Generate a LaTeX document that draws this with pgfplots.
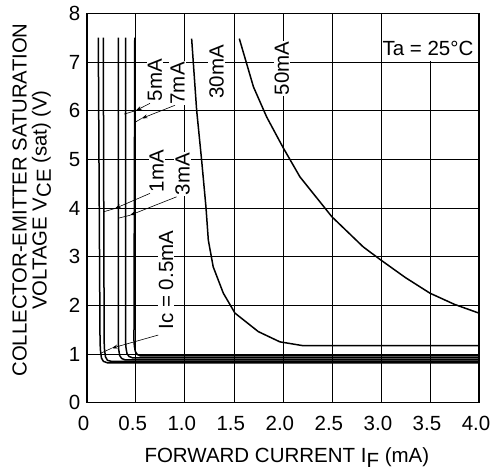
\documentclass[border=0pt]{standalone}
\usepackage{fontspec}
\setmainfont{Liberation Sans}
\usepackage{pgfplots}
\pgfplotsset{compat=1.18}
\usetikzlibrary{arrows.meta}

\begin{document}
\begin{tikzpicture}[font=\fontsize{20.5}{22}\selectfont]
\begin{axis}[
    scale only axis,
    width=392.3pt, height=389.4pt,
    xmin=0, xmax=4, ymin=0, ymax=8,
    xtick={0,0.5,...,4}, ytick={0,1,...,8},
    xticklabels={0,0.5,1.0,1.5,2.0,2.5,3.0,3.5,4.0},
    /pgf/number format/assume math mode=true,
    major tick length=0pt,
    grid=major,
    major grid style={black, line width=0.6pt},
    axis line style={line width=1.6pt},
    xticklabel style={yshift=-10pt, xshift=-3pt},
    yticklabel style={xshift=-3pt},
    clip=false,
]
% curves, Ic = 0.5, 1, 3, 5, 7 mA
\addplot[black, line width=1.5pt] coordinates {
    (0.118,7.5) (0.136,1.25) (0.140,1.08) (0.150,0.92) (0.170,0.85) (0.21,0.82) (4.0,0.82)};
\addplot[black, line width=1.5pt] coordinates {
    (0.169,7.5) (0.178,1.25) (0.182,1.08) (0.192,0.94) (0.212,0.87) (0.25,0.85) (4.0,0.85)};
\addplot[black, line width=1.5pt] coordinates {
    (0.322,7.5) (0.322,1.25) (0.326,1.10) (0.336,0.97) (0.356,0.91) (0.39,0.88) (4.0,0.88)};
\addplot[black, line width=1.5pt] coordinates {
    (0.397,7.5) (0.397,1.25) (0.401,1.12) (0.411,1.01) (0.431,0.95) (0.47,0.92) (4.0,0.92)};
\addplot[black, line width=1.5pt] coordinates {
    (0.490,7.5) (0.482,1.28) (0.486,1.16) (0.496,1.05) (0.516,0.99) (0.55,0.96) (4.0,0.96)};
% Ic = 30 mA
\addplot[black, line width=1.5pt] coordinates {
    (1.07,7.48) (1.121,6.01) (1.172,4.98) (1.216,4.02) (1.240,3.34) (1.29,2.79)
    (1.393,2.25) (1.512,1.84) (1.75,1.46) (1.97,1.25) (2.21,1.17) (4.0,1.17)};
% Ic = 50 mA
\addplot[black, line width=1.5pt] coordinates {
    (1.556,7.48) (1.70,6.49) (1.835,5.87) (2.0,5.25) (2.174,4.64) (2.5,3.82)
    (2.82,3.20) (3.0,2.93) (3.25,2.57) (3.5,2.25) (3.75,2.02) (4.0,1.84)};

% labels
\tikzset{lbl/.style={rotate=90, fill=white, inner sep=1pt}}
\node[lbl] at (axis cs:0.696,6.63) {5mA};
\node[lbl] at (axis cs:0.926,6.56) {7mA};
\node[lbl] at (axis cs:0.713,4.76) {1mA};
\node[lbl] at (axis cs:0.977,4.70) {3mA};
\node[lbl] at (axis cs:1.325,6.80) {30mA};
\node[lbl] at (axis cs:1.99,6.87) {50mA};
\node[lbl] at (axis cs:0.81,2.52) {Ic = 0.5mA};
\fill[white] (axis cs:3.01,7.01) rectangle (axis cs:4,8);
\node[anchor=west, inner sep=0pt] at (axis cs:3.015,7.28) {Ta = 25°C};

% leader lines
\tikzset{ldr/.style={line width=0.6pt, -{Stealth[length=6pt,width=4pt]}}}
\draw[ldr] (axis cs:0.645,6.15) -- (axis cs:0.50,6.00);
\draw[line width=0.6pt] (axis cs:0.50,6.00) -- (axis cs:0.383,5.93);
\draw[ldr] (axis cs:0.90,6.11) -- (axis cs:0.56,5.84);
\draw[line width=0.6pt] (axis cs:0.56,5.84) -- (axis cs:0.50,5.77);
\draw[ldr] (axis cs:0.645,4.30) -- (axis cs:0.288,3.99);
\draw[line width=0.6pt] (axis cs:0.288,3.99) -- (axis cs:0.169,3.92);
\draw[ldr] (axis cs:0.917,4.23) -- (axis cs:0.44,3.85);
\draw[line width=0.6pt] (axis cs:0.44,3.85) -- (axis cs:0.322,3.79);
\draw[ldr] (axis cs:0.73,1.39) -- (axis cs:0.255,1.12);
\draw[line width=0.6pt] (axis cs:0.255,1.12) -- (axis cs:0.136,1.01);

% frame on top
\draw[line width=1.6pt] (rel axis cs:0,0) rectangle (rel axis cs:1,1);
\end{axis}
\node[rotate=90, align=center, font=\fontsize{20.3}{20}\selectfont]
    at ([xshift=-55pt, yshift=8pt]current axis.west)
    {COLLECTOR-EMITTER SATURATION\\VOLTAGE V\raisebox{-0.4ex}{CE} (sat) (V)};
\node[anchor=base] at ([xshift=4pt, yshift=-60pt]current axis.south)
    {FORWARD CURRENT I\raisebox{-0.4ex}{F} (mA)};
\pgfresetboundingbox
\path ([xshift=-86.7pt, yshift=-70.3pt]current axis.south west)
    rectangle ([xshift=16pt, yshift=13.3pt]current axis.north east);
\end{tikzpicture}
\end{document}
